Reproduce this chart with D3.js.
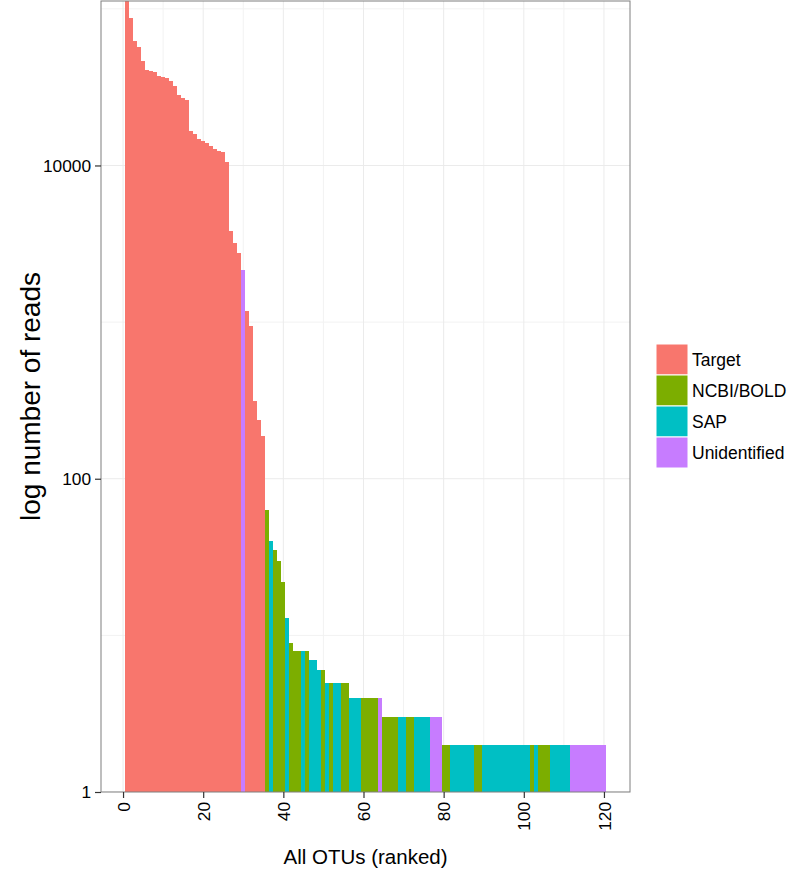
<!DOCTYPE html>
<html>
<head>
<meta charset="utf-8">
<script src="https://cdn.jsdelivr.net/npm/d3@7"></script>
<style>
  body { margin: 0; background: #fff; }
  text { font-family: "Liberation Sans", Arial, Helvetica, sans-serif; }
</style>
</head>
<body>
<svg id="chart" width="788" height="869"></svg>
<script>
// ---- data ----
const categories = ["Target", "NCBI/BOLD", "SAP", "Unidentified"];
const colors = ["#F8766D", "#7CAE00", "#00BFC4", "#C77CFF"];

// reads per OTU, ranked 1..120
const reads = [
  150000, 87000, 62000, 57000, 46500, 40800, 40000, 39500, 37500, 36800,
  36000, 34500, 32300, 28000, 27000, 26000, 16500, 15800, 14800, 14300,
  14000, 13400, 12700, 12300, 12100, 10500, 3800, 3200, 2780, 2160,
  1170, 940, 312, 237, 188, 63, 40, 35, 30, 22,
  13, 9, 8, 8, 8, 8, 7, 7, 6, 6,
  5, 5, 5, 5, 5, 5, 4, 4, 4, 4,
  4, 4, 4, 4, 3, 3, 3, 3, 3, 3,
  3, 3, 3, 3, 3, 3, 3, 3, 3, 2,
  2, 2, 2, 2, 2, 2, 2, 2, 2, 2,
  2, 2, 2, 2, 2, 2, 2, 2, 2, 2,
  2, 2, 2, 2, 2, 2, 2, 2, 2, 2,
  2, 2, 2, 2, 2, 2, 2, 2, 2, 2
];

// identification source per OTU (T = Target, N = NCBI/BOLD, S = SAP, U = Unidentified)
const source = [
  "T","T","T","T","T","T","T","T","T","T",
  "T","T","T","T","T","T","T","T","T","T",
  "T","T","T","T","T","T","T","T","T","U",
  "T","T","T","T","T","N","S","N","N","N",
  "S","N","N","N","S","N","S","S","S","N",
  "S","N","S","S","N","N","S","S","S","N",
  "N","N","N","U","N","N","N","N","S","S",
  "N","N","S","S","S","S","U","U","U","N",
  "N","S","S","S","S","S","S","N","N","S",
  "S","S","S","S","S","S","S","S","S","S",
  "S","N","S","N","N","N","S","S","S","S",
  "S","U","U","U","U","U","U","U","U","U"
];
const codeToCat = { T: "Target", N: "NCBI/BOLD", S: "SAP", U: "Unidentified" };

const xTicks = [0, 20, 40, 60, 80, 100, 120];
const xMinor = [10, 30, 50, 70, 90, 110];
const yTicks = [1, 100, 10000];
const yMinor = [10, 1000, 100000];

const xTitle = "All OTUs (ranked)";
const yTitle = "log number of reads";

// ---- layout ----
const svg = d3.select("#chart");
const panel = { left: 101, right: 630, top: 1, bottom: 792 };

const x = d3.scaleLinear().domain([-5.5, 126.5]).range([panel.left, panel.right]);
const y = d3.scaleLog().domain([1, Math.pow(10, 5.05)]).range([panel.bottom, panel.top]);
const color = d3.scaleOrdinal().domain(categories).range(colors);

const data = reads.map((v, i) => ({ rank: i + 1, reads: v, cat: codeToCat[source[i]] }));

svg.append("defs").append("clipPath").attr("id", "clip")
  .append("rect")
  .attr("x", panel.left).attr("y", panel.top)
  .attr("width", panel.right - panel.left).attr("height", panel.bottom - panel.top);

// panel background
svg.append("rect")
  .attr("x", panel.left).attr("y", panel.top)
  .attr("width", panel.right - panel.left).attr("height", panel.bottom - panel.top)
  .attr("fill", "#fff");

const grid = svg.append("g").attr("clip-path", "url(#clip)");
grid.selectAll(".ymin").data(yMinor).join("line")
  .attr("x1", panel.left).attr("x2", panel.right)
  .attr("y1", d => y(d)).attr("y2", d => y(d))
  .attr("stroke", "#f2f2f2").attr("stroke-width", 1);
grid.selectAll(".xmin").data(xMinor).join("line")
  .attr("y1", panel.top).attr("y2", panel.bottom)
  .attr("x1", d => x(d)).attr("x2", d => x(d))
  .attr("stroke", "#f2f2f2").attr("stroke-width", 1);
grid.selectAll(".ymaj").data(yTicks).join("line")
  .attr("x1", panel.left).attr("x2", panel.right)
  .attr("y1", d => y(d)).attr("y2", d => y(d))
  .attr("stroke", "#ebebeb").attr("stroke-width", 1);
grid.selectAll(".xmaj").data(xTicks).join("line")
  .attr("y1", panel.top).attr("y2", panel.bottom)
  .attr("x1", d => x(d)).attr("x2", d => x(d))
  .attr("stroke", "#ebebeb").attr("stroke-width", 1);

// bars
svg.append("g").attr("clip-path", "url(#clip)")
  .selectAll("rect").data(data).join("rect")
  .attr("x", d => x(d.rank - 0.5))
  .attr("width", d => x(d.rank + 0.5) - x(d.rank - 0.5))
  .attr("y", d => y(d.reads))
  .attr("height", d => y(1) - y(d.reads))
  .attr("fill", d => color(d.cat))
  .attr("shape-rendering", "crispEdges");

// panel border
svg.append("rect")
  .attr("x", panel.left).attr("y", panel.top)
  .attr("width", panel.right - panel.left).attr("height", panel.bottom - panel.top)
  .attr("fill", "none").attr("stroke", "#7f7f7f").attr("stroke-width", 1);

// y axis
const yAxis = svg.append("g")
  .attr("transform", `translate(${panel.left},0)`)
  .call(d3.axisLeft(y).tickValues(yTicks).tickFormat(d3.format("d")).tickSize(6).tickPadding(4));
yAxis.select(".domain").remove();
yAxis.selectAll(".tick line").attr("stroke", "#333").attr("stroke-width", 1.2);
yAxis.selectAll(".tick text").attr("font-size", 17.3).attr("fill", "#000")
  .attr("font-family", '"Liberation Sans", Arial, sans-serif');

// x axis
const xAxis = svg.append("g")
  .attr("transform", `translate(0,${panel.bottom})`)
  .call(d3.axisBottom(x).tickValues(xTicks).tickSize(6).tickPadding(4));
xAxis.select(".domain").remove();
xAxis.selectAll(".tick line").attr("stroke", "#333").attr("stroke-width", 1.2);
xAxis.selectAll(".tick text")
  .attr("font-size", 17.3).attr("fill", "#000")
  .attr("font-family", '"Liberation Sans", Arial, sans-serif')
  .attr("transform", "rotate(-90)")
  .attr("text-anchor", "end")
  .attr("dy", "0.35em")
  .attr("x", -10).attr("y", 0);

// titles
svg.append("text")
  .attr("x", (panel.left + panel.right) / 2 + 0)
  .attr("y", 864)
  .attr("text-anchor", "middle")
  .attr("font-size", 20.5)
  .text(xTitle);

svg.append("text")
  .attr("transform", `translate(40,${(panel.top + panel.bottom) / 2}) rotate(-90)`)
  .attr("text-anchor", "middle")
  .attr("font-size", 28)
  .text(yTitle);

// legend
const legend = svg.append("g").attr("transform", "translate(656,344)");
const items = legend.selectAll("g").data(categories).join("g")
  .attr("transform", (d, i) => `translate(0,${i * 31})`);
items.append("rect")
  .attr("width", 32).attr("height", 31)
  .attr("fill", d => color(d))
  .attr("stroke", "#fff").attr("stroke-width", 1);
items.append("text")
  .attr("x", 36).attr("y", 15.5)
  .attr("dy", "0.35em")
  .attr("font-size", 17.5)
  .text(d => d);
</script>
</body>
</html>
